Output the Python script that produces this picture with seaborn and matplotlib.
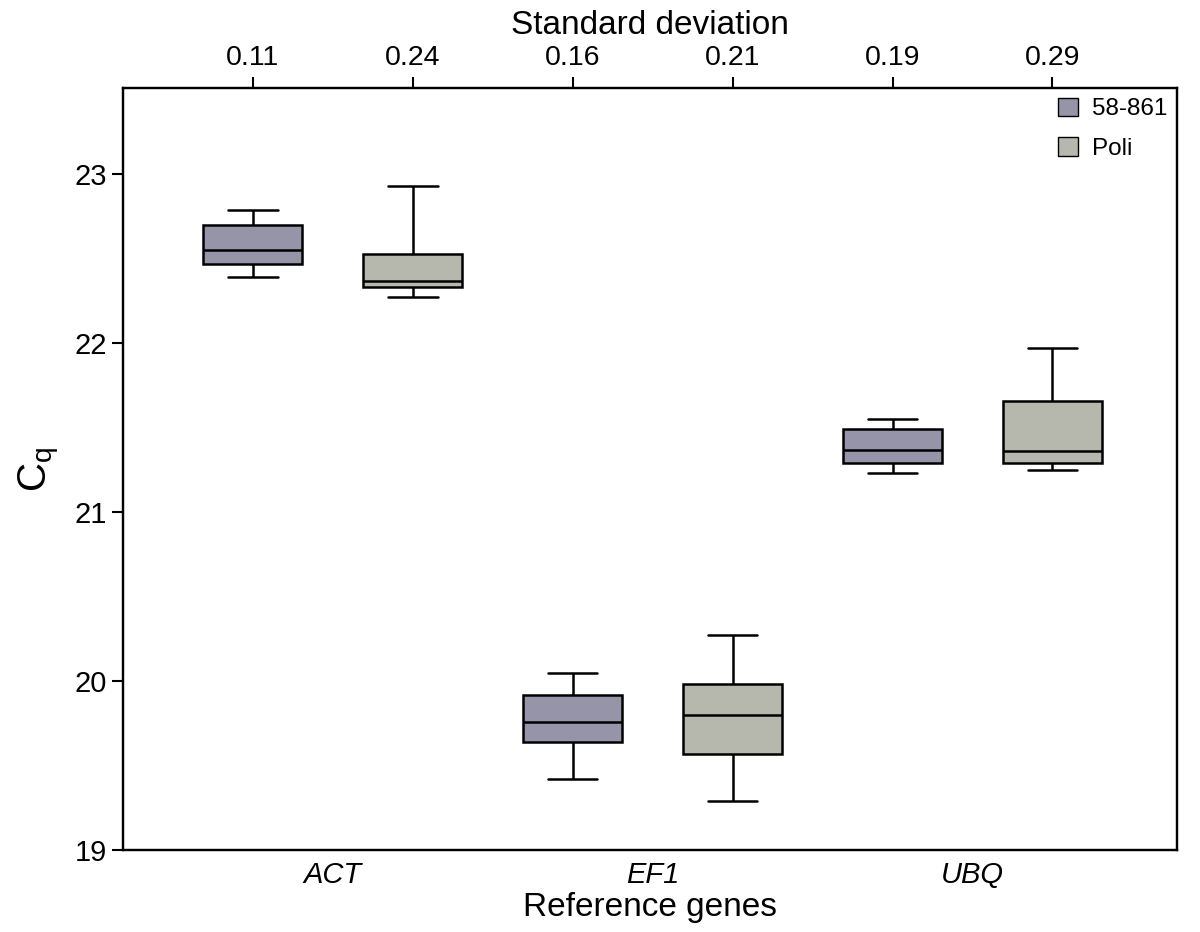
import pandas as pd
import numpy as np
import seaborn as sns
import matplotlib.pyplot as plt

# box summaries: [low whisker, Q1, median, Q3, high whisker]
genes = ['ACT', 'EF1', 'UBQ']
cultivars = ['58-861', 'Poli']
act_58861 = [22.39, 22.47, 22.55, 22.70, 22.79]
act_poli = [22.27, 22.33, 22.37, 22.53, 22.93]
ef1_58861 = [19.42, 19.64, 19.76, 19.92, 20.05]
ef1_poli = [19.29, 19.57, 19.80, 19.98, 20.27]
ubq_58861 = [21.23, 21.29, 21.37, 21.49, 21.55]
ubq_poli = [21.25, 21.29, 21.36, 21.66, 21.97]
std_dev = ['0.11', '0.24', '0.16', '0.21', '0.19', '0.29']

colors = ['#9391ab', '#b7b8ac']

rows = []
for gene, a, b in zip(genes, [act_58861, ef1_58861, ubq_58861], [act_poli, ef1_poli, ubq_poli]):
    for v in a:
        rows.append((gene, cultivars[0], v))
    for v in b:
        rows.append((gene, cultivars[1], v))
df = pd.DataFrame(rows, columns=['Gene', 'Cultivar', 'Cq'])

sns.set_style('ticks')
plt.rcParams['font.family'] = ['Liberation Sans', 'DejaVu Sans']
for key in ['text.color', 'axes.edgecolor', 'axes.labelcolor', 'xtick.color', 'ytick.color']:
    plt.rcParams[key] = 'black'

fig = plt.figure(figsize=(12, 9.32), dpi=100)
ax = fig.add_axes([0.1025, 0.088, 0.8785, 0.8176])

sns.boxplot(data=df, x='Gene', y='Cq', hue='Cultivar', order=genes, hue_order=cultivars,
            palette=colors, width=1.0, gap=0.38, whis=(0, 100), linecolor='black',
            linewidth=1.8, showfliers=False, ax=ax)

ax.set_xlim(-0.656, 2.64)
ax.set_ylim(19, 23.51)
ax.set_yticks([19, 20, 21, 22, 23])
ax.tick_params(axis='y', labelsize=21, length=8, width=1.5, direction='out')
ax.tick_params(axis='x', length=0, pad=8)
for lab in ax.get_xticklabels():
    lab.set_fontstyle('italic')
    lab.set_fontsize(21)
ax.set_xlabel('Reference genes', fontsize=24, labelpad=2)
ax.set_ylabel('C$_\\mathregular{q}$', fontsize=29, labelpad=10)
for s in ax.spines.values():
    s.set_linewidth(1.6)

# top axis: standard deviation per box
ax2 = ax.twiny()
ax2.set_xlim(ax.get_xlim())
ax2.set_xticks([-0.25, 0.25, 0.75, 1.25, 1.75, 2.25])
ax2.set_xticklabels(std_dev, fontsize=20.5)
ax2.tick_params(axis='x', length=8, width=1.5, direction='out', pad=4)
ax2.set_xlabel('Standard deviation', fontsize=24, labelpad=8)
for s in ax2.spines.values():
    s.set_linewidth(1.6)

leg = ax.legend(title=None, loc='upper right', frameon=False, fontsize=17.5,
                handlelength=0.8, handleheight=0.8, handletextpad=0.6,
                labelspacing=0.7, borderaxespad=0.0)
for h in leg.get_patches():
    h.set_linewidth(1.0)

fig.savefig('out.png', dpi=100)
